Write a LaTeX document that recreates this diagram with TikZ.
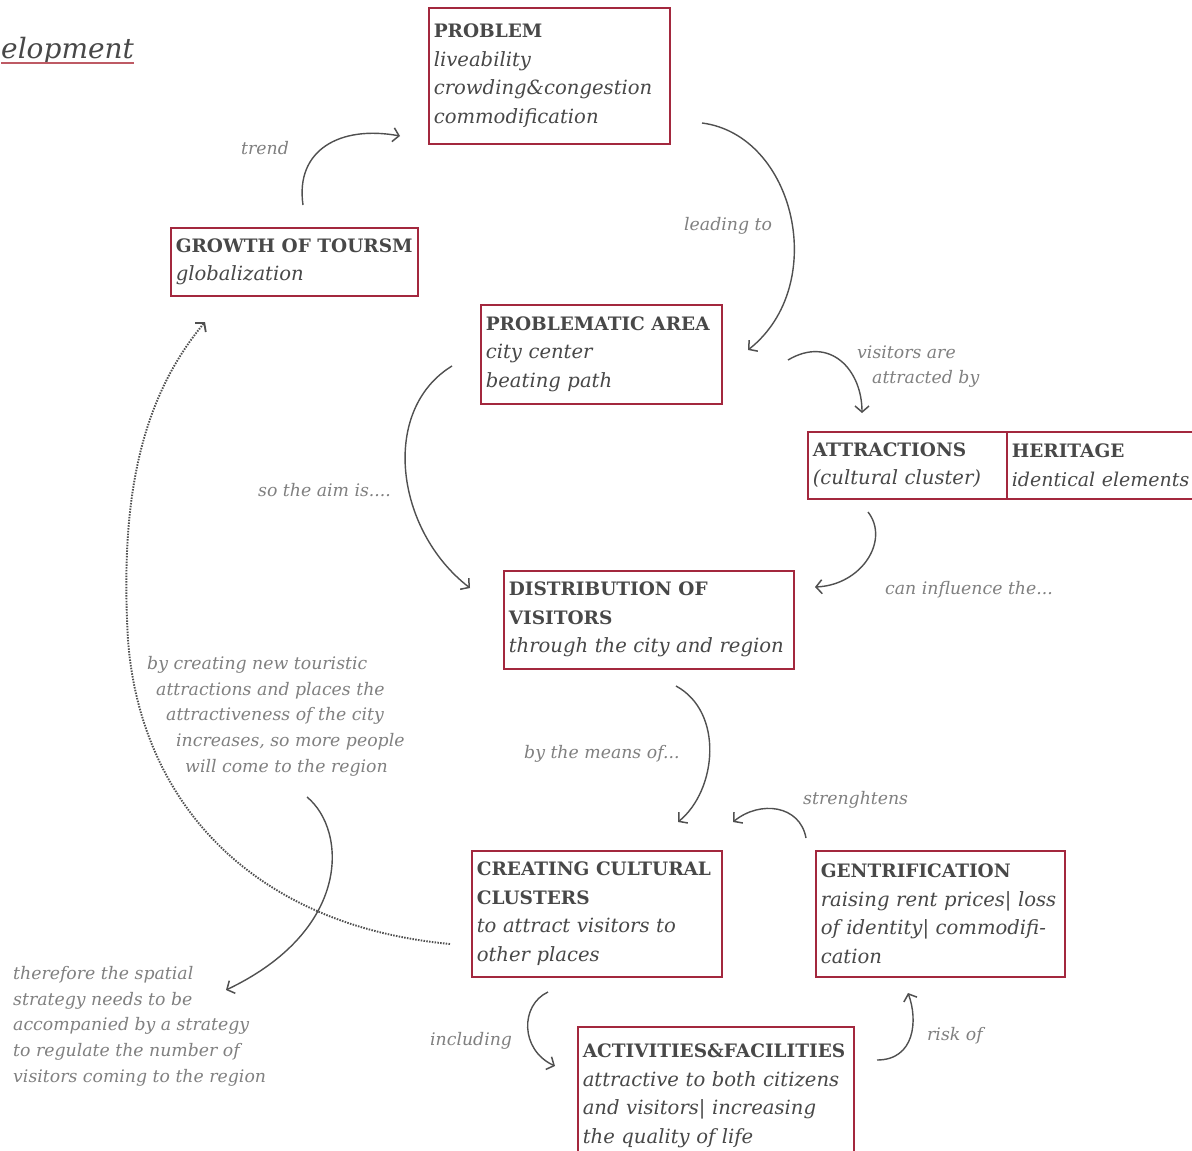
\documentclass[tikz,border=0pt]{standalone}
\usepackage{fontspec}
\setmainfont{DejaVu Serif}
\usetikzlibrary{arrows.meta}
\definecolor{boxred}{RGB}{163,40,62}
\definecolor{boxtext}{RGB}{72,72,72}
\definecolor{labelgray}{RGB}{128,128,128}
\definecolor{arrowgray}{RGB}{80,80,80}
\definecolor{titleline}{RGB}{190,90,100}
\tikzset{
  box/.style={draw=boxred, line width=1.6pt, text=boxtext, align=left, anchor=north west,
    inner xsep=5pt, inner ysep=4pt, font=\fontsize{19.6}{28.5}\selectfont\itshape},
  lbl/.style={text=labelgray, anchor=base west, inner sep=0pt, font=\fontsize{17.3}{25.5}\selectfont\itshape},
  conn/.style={draw=arrowgray, line width=1.4pt, -{Straight Barb[length=6pt,width=14pt,line width=1.5pt]}},
  dotconn/.style={draw=arrowgray, line width=1.9pt, dash pattern=on 1.5pt off 1.3pt, -{Straight Barb[length=6pt,width=14pt,line width=1.8pt]}}
}
\newcommand{\hd}[1]{\mbox{\fontsize{18.5}{28.5}\selectfont\upshape\bfseries #1}}
\newcommand{\itl}[1]{\mbox{#1}}
\begin{document}
\begin{tikzpicture}[x=1pt,y=-1pt]
\useasboundingbox (0,0) rectangle (1192,1151);
\fill[white] (0,0) rectangle (1192,1151);

% title fragment
\node[anchor=base west, inner sep=0pt, text=boxtext, font=\fontsize{28}{34}\selectfont\itshape] (title) at (1,58) {elopment};
\draw[titleline, line width=1.3pt] ([yshift=-5pt]title.base west) -- ([yshift=-5pt]title.base east);

% boxes
\node[box, minimum width=241, minimum height=136, text width=231] (problem) at (428,7)
  {\hd{PROBLEM}\\\itl{liveability}\\\itl{crowding\&congestion}\\\itl{commodification}};
\node[box, minimum width=247, minimum height=68, text width=237] (growth) at (170,227)
  {\hd{GROWTH OF TOURSM}\\\itl{globalization}};
\node[box, minimum width=241, minimum height=99, text width=231] (area) at (480,304)
  {\hd{PROBLEMATIC AREA}\\\itl{city center}\\\itl{beating path}};
\node[box, minimum width=199, minimum height=67, text width=189] (attr) at (807,431)
  {\hd{ATTRACTIONS}\\\itl{(cultural cluster)}};
\node[box, minimum width=210, minimum height=67, text width=200] (heritage) at (1006,431)
  {\hd{HERITAGE}\\\itl{\fontsize{19}{28.5}\selectfont identical elements}};
\node[box, minimum width=290, minimum height=98, text width=280] (distr) at (503,570)
  {\hd{DISTRIBUTION OF}\\\hd{VISITORS}\\\itl{through the city and region}};
\node[box, minimum width=250, minimum height=126, text width=240] (clusters) at (471,850)
  {\hd{CREATING CULTURAL}\\\hd{CLUSTERS}\\\itl{to attract visitors to}\\\itl{other places}};
\node[box, minimum width=249, minimum height=126, text width=239] (gentr) at (815,850)
  {\hd{GENTRIFICATION}\\\itl{raising rent prices| loss}\\\itl{of identity| commodifi-}\\\itl{cation}};
\node[box, minimum width=276, minimum height=138, text width=266] (activ) at (577,1026)
  {\hd{ACTIVITIES\&FACILITIES}\\\itl{attractive to both citizens}\\\itl{and visitors| increasing}\\\itl{the quality of life}};

% labels
\node[lbl] (ltrend) at (241,154) {trend};
\node[lbl] (llead) at (684,230) {leading to};
\node[lbl] (lvis1) at (857,358) {visitors are};
\node[lbl] (lvis2) at (872,383) {attracted by};
\node[lbl] (laim) at (258,496) {so the aim is....};
\node[lbl] (linfl) at (885,594) {can influence the...};
\node[lbl] (lby1) at (147,669) {by creating new touristic};
\node[lbl] (lby2) at (156,695) {attractions and places the};
\node[lbl] (lby3) at (166,720) {attractiveness of the city};
\node[lbl] (lby4) at (176,746) {increases, so more people};
\node[lbl] (lby5) at (185,772) {will come to the region};
\node[lbl] (lmeans) at (524,758) {by the means of...};
\node[lbl] (lstr) at (803,804) {strenghtens};
\node[lbl] (lth1) at (13,979) {therefore the spatial};
\node[lbl] (lth2) at (13,1005) {strategy needs to be};
\node[lbl] (lth3) at (13,1030) {accompanied by a strategy};
\node[lbl] (lth4) at (13,1056) {to regulate the number of};
\node[lbl] (lth5) at (13,1082) {visitors coming to the region};
\node[lbl] (lincl) at (430,1045) {including};
\node[lbl] (lrisk) at (927,1040) {risk of};

% connector end points
\coordinate (t1) at (303,205);   \coordinate (t2) at (400,136);
\coordinate (a1) at (702,123);   \coordinate (a2) at (748,350);
\coordinate (v1) at (788,360);   \coordinate (v2) at (862,413);
\coordinate (s1) at (452,366);   \coordinate (s2) at (470,588);
\coordinate (c1) at (868,512);   \coordinate (c2) at (815,587);
\coordinate (m1) at (676,686);   \coordinate (m2) at (678,822);
\coordinate (g1) at (806,838);   \coordinate (g2) at (733,822);
\coordinate (i1) at (548,992);   \coordinate (i2) at (555,1066);
\coordinate (r1) at (877,1060);  \coordinate (r2) at (908,993);
\coordinate (b1) at (307,797);   \coordinate (b2) at (226,990);
\coordinate (d1) at (450,944);   \coordinate (dm) at (128,640); \coordinate (d2) at (205,322);

% connectors
\draw[conn] (t1) .. controls (295,150) and (340,125) .. (t2);
\draw[conn] (a1) .. controls (795,135) and (830,285) .. (a2);
\draw[conn] (v1) .. controls (830,335) and (862,370) .. (v2);
\draw[conn] (s1) .. controls (380,410) and (395,530) .. (s2);
\draw[conn] (c1) .. controls (890,540) and (862,585) .. (c2);
\draw[conn] (m1) .. controls (724,712) and (717,790) .. (m2);
\draw[conn] (g1) .. controls (800,805) and (760,800) .. (g2);
\draw[conn] (i1) .. controls (520,1005) and (520,1050) .. (i2);
\draw[conn] (r1) .. controls (915,1060) and (918,1020) .. (r2);
\draw[conn] (b1) .. controls (347,830) and (352,930) .. (b2);
\draw[dotconn] (d1) .. controls (250,925) and (140,800) .. (dm) .. controls (120,500) and (140,400) .. (d2);
\end{tikzpicture}
\end{document}
